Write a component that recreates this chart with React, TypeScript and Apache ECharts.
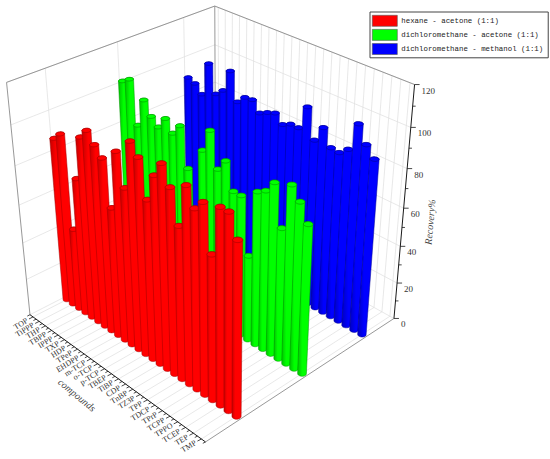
import React, { useEffect, useRef } from "react";
import * as echarts from "echarts";

// ---------------- data ----------------
const compounds = [
  "TOP", "TiPPP", "THP", "TBPP", "IPPP", "TXP", "HDP", "TPeP", "EHDPP", "m-TCP",
  "o-TCP", "p-TCP", "TBEP", "TiBP", "CDP", "TnBP", "TZ3P", "TPP", "TDCP", "TPrP",
  "TCPP", "TPPO", "TCEP", "TEP", "TMP",
];
const seriesNames = [
  "hexane - acetone (1:1)",
  "dichloromethane - acetone (1:1)",
  "dichloromethane - methanol (1:1)",
];
const hexaneAcetone = [
  87, 91, 44, 72.5, 95, 100, 95, 90.5, 68, 97.5, 82, 106, 100.5, 82.5, 96, 103.5,
  94.5, 78.5, 99.5, 91, 96, 74, 98, 98, 87.5,
];
const dcmAcetone = [
  101.5, 104, 82.5, 97, 90.5, 87, 93, 87.5, 93, 73.5, 48, 86.5, 98, 81, 87, 74, 74,
  45.5, 80, 82.5, 88.5, 68.5, 91.5, 85.5, 77,
];
const dcmMethanol = [
  90, 88.5, 84.5, 102, 88, 91.5, 103, 89, 93, 93.5, 88.5, 90.5, 92, 88, 90, 90, 102,
  87.5, 95.5, 87.5, 87, 90.5, 104.5, 96.5, 91.5,
];
const valueTicks = [0, 20, 40, 60, 80, 100, 120];

const colors = ["#ff0000", "#00ff00", "#0000ff"];
const darkColors = ["#c40000", "#00c000", "#0000c0"];
const strokeColors = ["#a00000", "#009000", "#000090"];

// ---------------- projection (3D box layout) ----------------
// world: X along compounds (0..1), Y along series (0..1), Z along value (0..1)
const boxCorners: number[][] = [
  [0, 0, 0, 30, 315],
  [1, 0, 0, 205, 442],
  [1, 1, 0, 394, 318],
  [0, 1, 0, 216, 220],
  [0, 0, 1, 7, 82],
  [1, 1, 1, 415, 85],
  [0, 1, 1, 214, 6],
];

function fitCamera(pts: number[][]): number[] {
  const A: number[][] = [];
  const b: number[] = [];
  for (const [X, Y, Z, u, v] of pts) {
    A.push([X, Y, Z, 1, 0, 0, 0, 0, -u * X, -u * Y, -u * Z]);
    b.push(u);
    A.push([0, 0, 0, 0, X, Y, Z, 1, -v * X, -v * Y, -v * Z]);
    b.push(v);
  }
  const n = 11;
  const M = Array.from({ length: n }, () => new Array(n + 1).fill(0));
  for (let r = 0; r < A.length; r++) {
    for (let i = 0; i < n; i++) {
      for (let j = 0; j < n; j++) M[i][j] += A[r][i] * A[r][j];
      M[i][n] += A[r][i] * b[r];
    }
  }
  for (let c = 0; c < n; c++) {
    let p = c;
    for (let r = c + 1; r < n; r++) if (Math.abs(M[r][c]) > Math.abs(M[p][c])) p = r;
    const tmp = M[c];
    M[c] = M[p];
    M[p] = tmp;
    for (let r = 0; r < n; r++) {
      if (r === c) continue;
      const f = M[r][c] / M[c][c];
      for (let k = c; k <= n; k++) M[r][k] -= f * M[c][k];
    }
  }
  return M.map((row, i) => row[n] / row[i]);
}

const P = fitCamera(boxCorners);
function proj(X: number, Y: number, Z: number): number[] {
  const w = P[8] * X + P[9] * Y + P[10] * Z + 1;
  return [
    (P[0] * X + P[1] * Y + P[2] * Z + P[3]) / w,
    (P[4] * X + P[5] * Y + P[6] * Z + P[7]) / w,
  ];
}

const N = compounds.length;
const rowY = [1 / 6, 1 / 2, 5 / 6];
const vMax = valueTicks[valueTicks.length - 1];
const radius = 0.4 / N;

function hull(points: number[][]): number[][] {
  const pts = points.slice().sort((a, b) => (a[0] === b[0] ? a[1] - b[1] : a[0] - b[0]));
  const cross = (o: number[], a: number[], b: number[]) =>
    (a[0] - o[0]) * (b[1] - o[1]) - (a[1] - o[1]) * (b[0] - o[0]);
  const lower: number[][] = [];
  for (const p of pts) {
    while (lower.length >= 2 && cross(lower[lower.length - 2], lower[lower.length - 1], p) <= 0) lower.pop();
    lower.push(p);
  }
  const upper: number[][] = [];
  for (let i = pts.length - 1; i >= 0; i--) {
    const p = pts[i];
    while (upper.length >= 2 && cross(upper[upper.length - 2], upper[upper.length - 1], p) <= 0) upper.pop();
    upper.push(p);
  }
  upper.pop();
  lower.pop();
  return lower.concat(upper);
}

function makeCylinderRenderer(s: number) {
  return (params: any, api: any) => {
    const i = api.value(0);
    const v = api.value(1);
    const cx = (i + 0.5) / N;
    const cy = rowY[s];
    const h = v / vMax;
    const bottom: number[][] = [];
    const top: number[][] = [];
    const K = 36;
    for (let k = 0; k < K; k++) {
      const a = (k / K) * Math.PI * 2;
      const x = cx + radius * Math.cos(a);
      const y = cy + radius * Math.sin(a);
      bottom.push(proj(x, y, 0));
      top.push(proj(x, y, h));
    }
    const body = hull(bottom.concat(top));
    return {
      type: "group",
      children: [
        {
          type: "polygon",
          shape: { points: body },
          style: {
            fill: new echarts.graphic.LinearGradient(0, 0, 1, 0, [
              { offset: 0, color: darkColors[s] },
              { offset: 0.3, color: colors[s] },
              { offset: 1, color: colors[s] },
            ]),
            stroke: strokeColors[s],
            lineWidth: 0.5,
          },
        },
        {
          type: "polygon",
          shape: { points: top },
          style: { fill: colors[s], stroke: strokeColors[s], lineWidth: 0.6 },
        },
      ],
    };
  };
}

function buildGraphics(): any[] {
  const els: any[] = [];
  const line = (a: number[], b: number[], stroke: string, lw: number) =>
    els.push({
      type: "line",
      silent: true,
      shape: { x1: a[0], y1: a[1], x2: b[0], y2: b[1] },
      style: { stroke, lineWidth: lw },
    });
  const grid = "#dedede";
  // left wall X = 0
  valueTicks.forEach((t) => line(proj(0, 0, t / vMax), proj(0, 1, t / vMax), grid, 0.7));
  rowY.forEach((y) => line(proj(0, y, 0), proj(0, y, 1), grid, 0.7));
  // back wall Y = 1
  valueTicks.forEach((t) => line(proj(0, 1, t / vMax), proj(1, 1, t / vMax), grid, 0.7));
  compounds.forEach((_, i) => line(proj((i + 0.5) / N, 1, 0), proj((i + 0.5) / N, 1, 1), grid, 0.7));
  // floor Z = 0
  compounds.forEach((_, i) => line(proj((i + 0.5) / N, 0, 0), proj((i + 0.5) / N, 1, 0), grid, 0.7));
  rowY.forEach((y) => line(proj(0, y, 0), proj(1, y, 0), grid, 0.7));
  // box edges
  const edge = "#8c8c8c";
  line(proj(0, 0, 1), proj(0, 1, 1), edge, 0.9);
  line(proj(0, 1, 1), proj(1, 1, 1), edge, 0.9);
  line(proj(0, 0, 0), proj(0, 0, 1), edge, 0.9);
  line(proj(0, 1, 0), proj(0, 1, 1), edge, 0.9);
  line(proj(1, 0, 0), proj(1, 1, 0), edge, 0.9);

  // compound axis
  const axisColor = "#1a1a1a";
  const a0 = proj(0, 0, 0);
  const a1 = proj(1, 0, 0);
  line(a0, a1, axisColor, 1);
  const back = proj(0, 1, 0);
  let dx = a0[0] - back[0];
  let dy = a0[1] - back[1];
  const len = Math.hypot(dx, dy);
  dx /= len;
  dy /= len;
  for (let i = 0; i <= N; i++) {
    const p = proj(i / N, 0, 0);
    line(p, [p[0] + dx * 3, p[1] + dy * 3], axisColor, 0.8);
  }
  compounds.forEach((name, i) => {
    const p = proj((i + 0.5) / N, 0, 0);
    line(p, [p[0] + dx * 4.5, p[1] + dy * 4.5], axisColor, 0.8);
    els.push({
      type: "text",
      silent: true,
      x: p[0] + dx * 6.5,
      y: p[1] + dy * 6.5,
      rotation: (32 * Math.PI) / 180,
      style: {
        text: name,
        align: "right",
        verticalAlign: "middle",
        fontSize: 8,
        fontFamily: "Liberation Serif",
        fill: "#333",
      },
    });
  });
  els.push({
    type: "text",
    silent: true,
    x: 77,
    y: 395,
    rotation: -0.69,
    style: {
      text: "compounds",
      align: "center",
      verticalAlign: "middle",
      fontSize: 10,
      fontStyle: "italic",
      fontFamily: "Liberation Serif",
      fill: "#444",
    },
  });

  // value axis
  const v0 = proj(1, 1, 0);
  const v1 = proj(1, 1, 1);
  line(v0, v1, axisColor, 1);
  valueTicks.forEach((t, k) => {
    const p = proj(1, 1, t / vMax);
    line(p, [p[0] + 5, p[1]], axisColor, 0.8);
    if (k < valueTicks.length - 1) {
      const m = proj(1, 1, (t + valueTicks[k + 1]) / 2 / vMax);
      line(m, [m[0] + 3, m[1]], axisColor, 0.8);
    }
    els.push({
      type: "text",
      silent: true,
      x: p[0] + 7,
      y: p[1] + 6,
      style: {
        text: String(t),
        align: "left",
        verticalAlign: "middle",
        fontSize: 9,
        fontFamily: "Liberation Serif",
        fill: "#333",
      },
    });
  });
  const ang = Math.atan2(v0[1] - v1[1], v1[0] - v0[0]);
  els.push({
    type: "text",
    silent: true,
    x: 430,
    y: 222,
    rotation: ang,
    style: {
      text: "Recovery%",
      align: "center",
      verticalAlign: "middle",
      fontSize: 10,
      fontStyle: "italic",
      fontFamily: "Liberation Serif",
      fill: "#444",
    },
  });
  return els;
}

export default function App() {
  const ref = useRef<HTMLDivElement>(null);
  useEffect(() => {
    if (!ref.current) return;
    const chart = echarts.init(ref.current, undefined, { renderer: "svg" });
    const seriesData = [hexaneAcetone, dcmAcetone, dcmMethanol];
    const order = [2, 1, 0]; // back row first
    chart.setOption({
      animation: false,
      backgroundColor: "#ffffff",
      legend: {
        data: seriesNames,
        orient: "vertical",
        left: 370,
        top: 12,
        icon: "rect",
        itemWidth: 25,
        itemHeight: 11,
        itemGap: 2.5,
        padding: [3, 5, 3, 2],
        borderColor: "#444",
        borderWidth: 1,
        selectedMode: false,
        itemStyle: { borderColor: "#555", borderWidth: 0.6 },
        textStyle: { fontSize: 7.4, fontFamily: "Liberation Mono", color: "#222", padding: [0, 0, 0, -1] },
      },
      graphic: { elements: buildGraphics() },
      series: order.map((s) => ({
        type: "custom",
        name: seriesNames[s],
        coordinateSystem: "none",
        itemStyle: { color: colors[s] },
        silent: true,
        renderItem: makeCylinderRenderer(s),
        data: seriesData[s].map((v, i) => [i, v]),
      })),
    });
    return () => chart.dispose();
  }, []);
  return (
    <div
      ref={ref}
      style={{ position: "fixed", left: 0, top: 0, width: 550, height: 459 }}
    />
  );
}
